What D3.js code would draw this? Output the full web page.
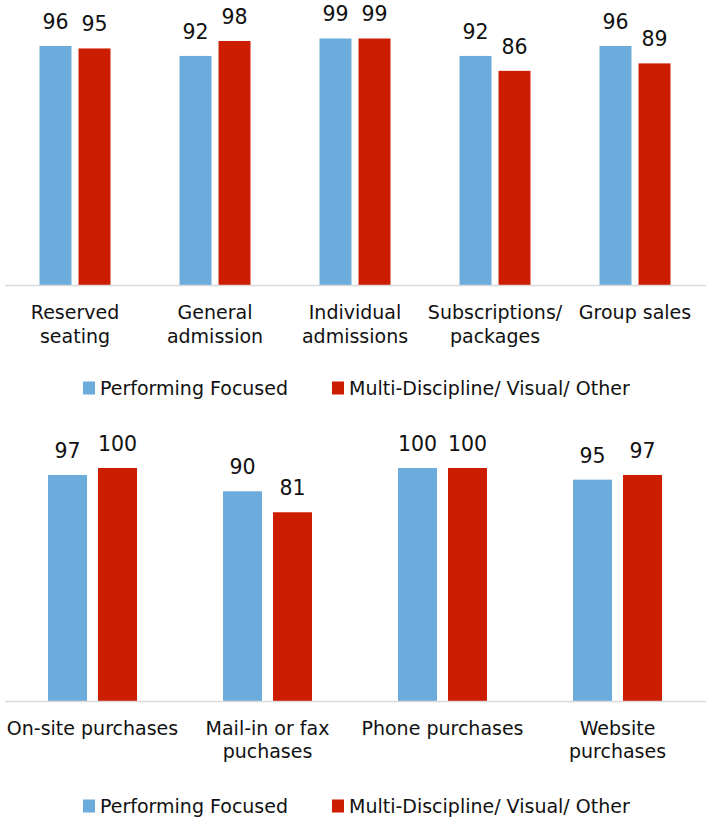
<!DOCTYPE html>
<html>
<head>
<meta charset="utf-8">
<script src="https://cdn.jsdelivr.net/npm/d3@7/dist/d3.min.js"></script>
<style>
  body { margin: 0; background: #fff; }
  svg text { font-family: "DejaVu Sans", "Lucida Grande", sans-serif; fill: #111; }
</style>
</head>
<body>
<svg id="chart" width="707" height="819"></svg>
<script>
// series names
var seriesNames = ["Performing Focused", "Multi-Discipline/ Visual/ Other"];
var seriesColors = ["#6cacdc", "#cd1d00"];

// top chart - ticket types
var topCategories = [["Reserved", "seating"], ["General", "admission"], ["Individual", "admissions"], ["Subscriptions/", "packages"], ["Group sales"]];
var topPerforming = [96, 92, 99, 92, 96];
var topMulti = [95, 98, 99, 86, 89];

// bottom chart - purchase channels
var bottomCategories = [["On-site purchases"], ["Mail-in or fax", "puchases"], ["Phone purchases"], ["Website", "purchases"]];
var bottomPerforming = [97, 90, 100, 95];
var bottomMulti = [100, 81, 100, 97];

var svg = d3.select('#chart');

function drawChart(opts) {
  var g = svg.append('g');
  var cats = opts.categories.map(function(c) { return c.join(' '); });
  var x0 = d3.scaleBand().domain(cats).range([5, 705]).padding(0);
  var x1 = d3.scaleBand().domain([0, 1])
    .range([-opts.groupWidth / 2, opts.groupWidth / 2])
    .paddingInner(opts.innerPad);
  var y = d3.scaleLinear().domain([0, 100]).range([opts.baseline, opts.top]);

  var rows = cats.map(function(c, i) {
    return {cat: c, lines: opts.categories[i], vals: [opts.perf[i], opts.multi[i]]};
  });

  var groups = g.selectAll('g.cat')
    .data(rows)
    .enter()
    .append('g')
    .attr('class', 'cat')
    .attr('transform', function(d) { return 'translate(' + (x0(d.cat) + x0.bandwidth() / 2) + ',0)'; });

  groups.selectAll('rect')
    .data(function(d) { return d.vals.map(function(v, k) { return {k: k, v: v}; }); })
    .enter()
    .append('rect')
    .attr('x', function(d) { return x1(d.k); })
    .attr('width', x1.bandwidth())
    .attr('y', function(d) { return y(d.v); })
    .attr('height', function(d) { return opts.baseline - y(d.v); })
    .attr('fill', function(d) { return seriesColors[d.k]; });

  groups.selectAll('text.val')
    .data(function(d) { return d.vals.map(function(v, k) { return {k: k, v: v}; }); })
    .enter()
    .append('text')
    .attr('class', 'val')
    .attr('x', function(d) { return x1(d.k) + x1.bandwidth() / 2; })
    .attr('y', function(d) { return y(d.v) - 17; })
    .attr('text-anchor', 'middle')
    .style('font-size', '20.5px')
    .text(function(d) { return d.v; });

  // axis line
  g.append('line')
    .attr('x1', 5).attr('x2', 706)
    .attr('y1', opts.baseline + 0.5).attr('y2', opts.baseline + 0.5)
    .attr('stroke', '#d9d9d9')
    .attr('stroke-width', 1.5);

  // category labels
  groups.append('text')
    .attr('class', 'cat-label')
    .attr('text-anchor', 'middle')
    .style('font-size', '19px')
    .selectAll('tspan')
    .data(function(d) { return d.lines; })
    .enter()
    .append('tspan')
    .attr('x', 0)
    .attr('y', function(d, i) { return opts.labelY + i * opts.lineGap; })
    .text(function(d) { return d; });

  // legend
  var legendX = [83, 332];
  var lg = g.selectAll('g.legend')
    .data(seriesNames)
    .enter()
    .append('g')
    .attr('class', 'legend')
    .attr('transform', function(d, i) { return 'translate(' + legendX[i] + ',' + opts.legendY + ')'; });
  lg.append('rect')
    .attr('x', 0).attr('y', -6.5)
    .attr('width', 12).attr('height', 13)
    .attr('fill', function(d, i) { return seriesColors[i]; });
  lg.append('text')
    .attr('x', 17).attr('y', 7)
    .style('font-size', '19px')
    .text(function(d) { return d; });
}

drawChart({
  categories: topCategories, perf: topPerforming, multi: topMulti,
  baseline: 285, top: 36, groupWidth: 71, innerPad: 0.18,
  labelY: 319, lineGap: 24, legendY: 388
});

drawChart({
  categories: bottomCategories, perf: bottomPerforming, multi: bottomMulti,
  baseline: 701, top: 468, groupWidth: 89, innerPad: 0.22,
  labelY: 735, lineGap: 23, legendY: 806
});
</script>
</body>
</html>
